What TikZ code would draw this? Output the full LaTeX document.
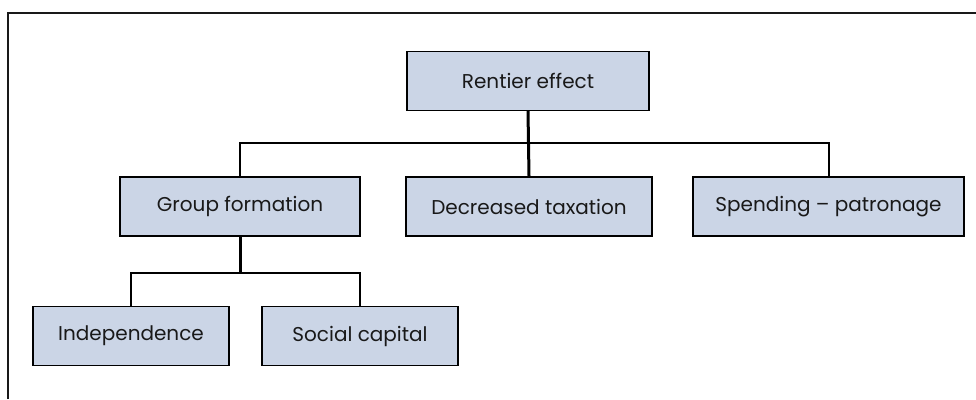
\documentclass[tikz,border=0pt]{standalone}
\usepackage{fontspec}
\setmainfont{Poppins}
\usepackage{xcolor}
\usetikzlibrary{calc, positioning}

\definecolor{boxfill}{HTML}{CBD5E6}

\tikzset{
    effectbox/.style={draw=black, fill=boxfill, line width=1.4pt, minimum height=59pt,
        inner sep=0pt, font=\fontsize{20}{22}\selectfont, text=black!90},
    trunk/.style={line width=3pt},
    branch/.style={line width=2pt}
}

\begin{document}
\begin{tikzpicture}[x=1pt, y=-1pt]
    \useasboundingbox (0, 0) rectangle (976, 399);
    % frame
    \draw[line width=2pt, black!90] (8, 399) -- (8, 12.5) -- (976, 12.5);

    \node[effectbox, minimum width=242pt] (rentier) at (528, 81) {Rentier effect};
    \node[effectbox, minimum width=240pt] (group) at (240, 206.5) {Group formation};
    \node[effectbox, minimum width=246pt] (taxation) at (529, 206.5) {Decreased taxation};
    \node[effectbox, minimum width=271pt] (spending) at (828.5, 206.5) {Spending -- patronage};
    \node[effectbox, minimum width=196pt] (indep) at (131, 336) {Independence};
    \node[effectbox, minimum width=196pt] (social) at (360, 336) {Social capital};

    \coordinate (bar1) at (0, 143);
    \coordinate (bar2) at (0, 273);

    \draw[trunk] (rentier.south) -- (taxation.north);
    \draw[branch] (group.north) -- (group.north |- bar1) -- (spending.north |- bar1) -- (spending.north);
    \draw[trunk] (group.south) -- (group.south |- bar2);
    \draw[branch] (indep.north) -- (indep.north |- bar2) -- (social.north |- bar2) -- (social.north);
\end{tikzpicture}
\end{document}
